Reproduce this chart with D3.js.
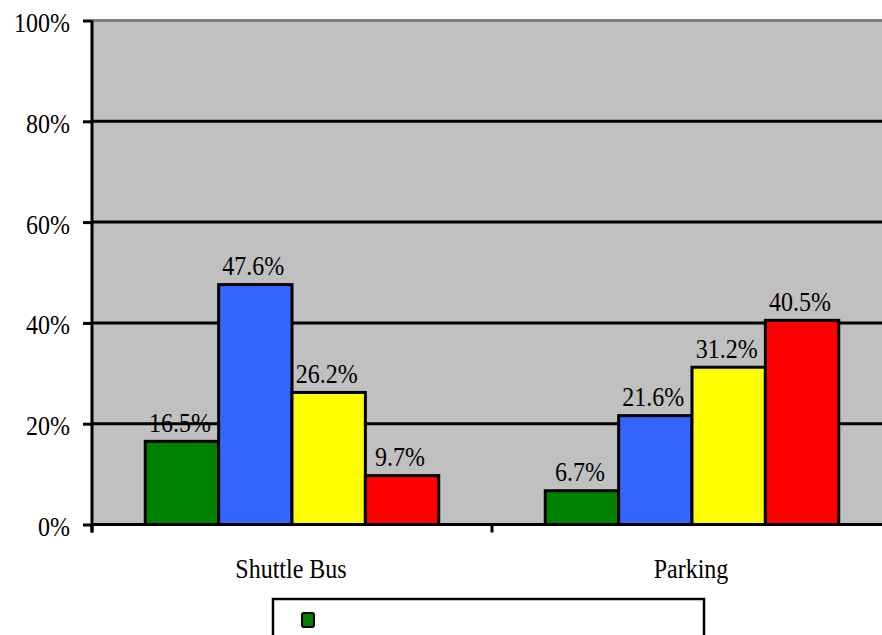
<!DOCTYPE html>
<html><head><meta charset="utf-8">
<script src="https://cdn.jsdelivr.net/npm/d3@7"></script>
<style>body{margin:0;background:#fff}svg{display:block}</style>
</head><body>
<script>
const categories = ["Shuttle Bus", "Parking"];
const series = ["Series A", "Series B", "Series C", "Series D"];
const colors = ["#008000", "#3366FF", "#FFFF00", "#FF0000"];
const shuttleBus = [0.165, 0.476, 0.262, 0.097];
const parking = [0.067, 0.216, 0.312, 0.405];
const values = [shuttleBus, parking];
const yTicks = [0, 0.2, 0.4, 0.6, 0.8, 1.0];

(function () {
const W = 882, H = 635;
const FONT = "'Liberation Serif', Tinos, 'Times New Roman', serif";
const svg = d3.select("body").append("svg").attr("width", W).attr("height", H);

const pLeft = 92, pRight = 892, pTop = 20.5, pBottom = 524.5;
const x0 = d3.scaleBand().domain(categories).range([pLeft, pRight]).paddingInner(0).paddingOuter(0);
const x1 = d3.scaleBand().domain(series).range([0, x0.bandwidth()]).paddingInner(0).paddingOuter(0.726);
const y = d3.scaleLinear().domain([0, 1]).range([pBottom, pTop]);

svg.append("rect").attr("x", pLeft).attr("y", pTop).attr("width", pRight - pLeft).attr("height", pBottom - pTop).attr("fill", "#C0C0C0");
svg.append("line").attr("x1", pLeft).attr("x2", W).attr("y1", pTop).attr("y2", pTop).attr("stroke", "#808080").attr("stroke-width", 3);

svg.append("g").selectAll("line").data(yTicks.filter(t => t > 0 && t < 1)).join("line")
  .attr("x1", pLeft).attr("x2", pRight).attr("y1", d => y(d)).attr("y2", d => y(d))
  .attr("stroke", "#000").attr("stroke-width", 3);

const g = svg.append("g").selectAll("g").data(categories).join("g")
  .attr("transform", d => `translate(${x0(d)},0)`);
g.selectAll("rect").data((d, i) => values[i].map((v, j) => ({v, s: series[j], c: colors[j]}))).join("rect")
  .attr("x", d => x1(d.s)).attr("width", x1.bandwidth())
  .attr("y", d => y(d.v)).attr("height", d => pBottom - y(d.v))
  .attr("fill", d => d.c).attr("stroke", "#000").attr("stroke-width", 3);

const sy = 1.12;
g.selectAll("text").data((d, i) => values[i].map((v, j) => ({v, s: series[j]}))).join("text")
  .attr("text-anchor", "middle").attr("font-size", 24).style("font-family", FONT).attr("fill", "#000")
  .attr("transform", d => `translate(${x1(d.s) + x1.bandwidth() / 2 - 2},${y(d.v) - 9.5}) scale(1,${sy})`)
  .text(d => (d.v * 100).toFixed(1) + "%");

svg.append("line").attr("x1", pLeft).attr("x2", W).attr("y1", pBottom).attr("y2", pBottom).attr("stroke", "#000").attr("stroke-width", 3);
const xAxis = d3.axisBottom(x0).tickSize(0).tickPadding(0);
const xa = svg.append("g").attr("transform", `translate(0,${pBottom})`).call(xAxis);
xa.select(".domain").remove();
xa.selectAll("text").attr("font-size", 24).attr("y", 0).attr("dy", 0).style("font-family", FONT)
  .attr("transform", `translate(-1,53) scale(1,${sy})`);
svg.append("g").selectAll("line").data([pLeft, x0(categories[1])]).join("line")
  .attr("x1", d => d).attr("x2", d => d).attr("y1", pBottom).attr("y2", pBottom + 8)
  .attr("stroke", "#000").attr("stroke-width", 3);

const yAxis = d3.axisLeft(y).tickValues(yTicks).tickFormat(d3.format(".0%")).tickSize(9).tickPadding(14);
const ya = svg.append("g").attr("transform", `translate(${pLeft},0)`).call(yAxis);
ya.select(".domain").attr("stroke-width", 3).attr("d", `M0,${pTop}V${pBottom + 8}`);
ya.selectAll(".tick line").attr("stroke-width", 3);
ya.selectAll(".tick text").attr("font-size", 24).attr("dy", 0).attr("y", 0).attr("x", 0).style("font-family", FONT)
  .attr("transform", `translate(-22,11) scale(1,${sy})`);

svg.append("rect").attr("x", 273).attr("y", 599).attr("width", 431).attr("height", 60)
  .attr("fill", "#fff").attr("stroke", "#000").attr("stroke-width", 2.5);
svg.append("rect").attr("x", 302).attr("y", 613).attr("width", 12).attr("height", 14).attr("rx", 2)
  .attr("fill", colors[0]).attr("stroke", "#000").attr("stroke-width", 2);
})();
</script>
</body></html>
